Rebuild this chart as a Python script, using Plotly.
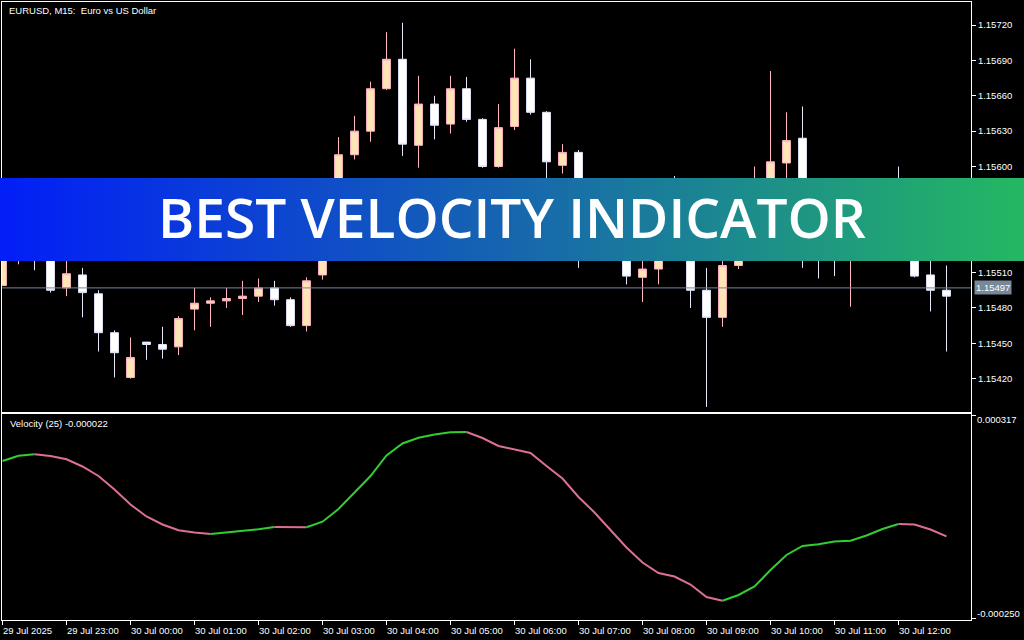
import plotly.graph_objects as go
import pandas as pd

W, H = 1024, 640

# ---------------- data ----------------
times = [
    "2025-07-29 22:00", "2025-07-29 22:15", "2025-07-29 22:30", "2025-07-29 22:45",
    "2025-07-29 23:00", "2025-07-29 23:15", "2025-07-29 23:30", "2025-07-29 23:45",
    "2025-07-30 00:00", "2025-07-30 00:15", "2025-07-30 00:30", "2025-07-30 00:45",
    "2025-07-30 01:00", "2025-07-30 01:15", "2025-07-30 01:30", "2025-07-30 01:45",
    "2025-07-30 02:00", "2025-07-30 02:15", "2025-07-30 02:30", "2025-07-30 02:45",
    "2025-07-30 03:00", "2025-07-30 03:15", "2025-07-30 03:30", "2025-07-30 03:45",
    "2025-07-30 04:00", "2025-07-30 04:15", "2025-07-30 04:30", "2025-07-30 04:45",
    "2025-07-30 05:00", "2025-07-30 05:15", "2025-07-30 05:30", "2025-07-30 05:45",
    "2025-07-30 06:00", "2025-07-30 06:15", "2025-07-30 06:30", "2025-07-30 06:45",
    "2025-07-30 07:00", "2025-07-30 07:15", "2025-07-30 07:30", "2025-07-30 07:45",
    "2025-07-30 08:00", "2025-07-30 08:15", "2025-07-30 08:30", "2025-07-30 08:45",
    "2025-07-30 09:00", "2025-07-30 09:15", "2025-07-30 09:30", "2025-07-30 09:45",
    "2025-07-30 10:00", "2025-07-30 10:15", "2025-07-30 10:30", "2025-07-30 10:45",
    "2025-07-30 11:00", "2025-07-30 11:15", "2025-07-30 11:30", "2025-07-30 11:45",
    "2025-07-30 12:00", "2025-07-30 12:15", "2025-07-30 12:30", "2025-07-30 12:45",
]

opens = [
    1.15499, 1.15529, 1.15551, 1.15537, 1.15497, 1.15508, 1.15492, 1.15459, 1.15421, 1.15451,
    1.15449, 1.15447, 1.15479, 1.15484, 1.15486, 1.15488, 1.15490, 1.15497, 1.15487, 1.15465,
    1.15508, 1.15542, 1.15610, 1.15630, 1.15666, 1.15691, 1.15618, 1.15653, 1.15636, 1.15666,
    1.15640, 1.15600, 1.15634, 1.15675, 1.15646, 1.15601, 1.15612, 1.15539, 1.15529, 1.15537,
    1.15506, 1.15513, 1.15533, 1.15524, 1.15495, 1.15472, 1.15516, 1.15537, 1.15567, 1.15603,
    1.15624, 1.15537, 1.15524, 1.15522, 1.15537, 1.15552, 1.15567, 1.15546, 1.15508, 1.15495,
]
highs = [
    1.15537, 1.15571, 1.15561, 1.15544, 1.15524, 1.15514, 1.15495, 1.15461, 1.15455, 1.15451,
    1.15464, 1.15473, 1.15497, 1.15489, 1.15497, 1.15503, 1.15505, 1.15503, 1.15489, 1.15506,
    1.15547, 1.15625, 1.15643, 1.15672, 1.15714, 1.15722, 1.15677, 1.15660, 1.15677, 1.15676,
    1.15641, 1.15653, 1.15700, 1.15691, 1.15647, 1.15619, 1.15614, 1.15550, 1.15544, 1.15541,
    1.15524, 1.15539, 1.15592, 1.15529, 1.15514, 1.15522, 1.15544, 1.15600, 1.15681, 1.15646,
    1.15651, 1.15546, 1.15533, 1.15544, 1.15561, 1.15573, 1.15600, 1.15552, 1.15524, 1.15516,
]
lows = [
    1.15499, 1.15517, 1.15512, 1.15493, 1.15490, 1.15472, 1.15443, 1.15421, 1.15420, 1.15436,
    1.15437, 1.15440, 1.15461, 1.15464, 1.15480, 1.15474, 1.15485, 1.15482, 1.15464, 1.15460,
    1.15504, 1.15539, 1.15606, 1.15621, 1.15665, 1.15609, 1.15599, 1.15623, 1.15628, 1.15638,
    1.15599, 1.15599, 1.15631, 1.15644, 1.15584, 1.15594, 1.15514, 1.15520, 1.15524, 1.15500,
    1.15485, 1.15500, 1.15522, 1.15480, 1.15396, 1.15464, 1.15513, 1.15533, 1.15563, 1.15584,
    1.15514, 1.15505, 1.15507, 1.15481, 1.15530, 1.15547, 1.15541, 1.15506, 1.15477, 1.15443,
]
closes = [
    1.15530, 1.15552, 1.15537, 1.15495, 1.15509, 1.15493, 1.15459, 1.15442, 1.15438, 1.15449,
    1.15445, 1.15471, 1.15484, 1.15486, 1.15488, 1.15490, 1.15497, 1.15487, 1.15465, 1.15503,
    1.15541, 1.15610, 1.15630, 1.15666, 1.15691, 1.15619, 1.15653, 1.15635, 1.15666, 1.15640,
    1.15600, 1.15633, 1.15675, 1.15646, 1.15604, 1.15612, 1.15537, 1.15529, 1.15537, 1.15507,
    1.15513, 1.15533, 1.15524, 1.15495, 1.15472, 1.15516, 1.15537, 1.15567, 1.15604, 1.15622,
    1.15537, 1.15524, 1.15522, 1.15537, 1.15552, 1.15567, 1.15546, 1.15507, 1.15495, 1.15490,
]

velocity = [
    0.0001885, 0.0002033, 0.0002072, 0.0002025, 0.0001933, 0.0001732, 0.0001466, 0.0001089, 0.0000670, 0.0000335,
    0.0000112, -0.0000050, -0.0000112, -0.0000154, -0.0000117, -0.0000070, -0.0000022, 0.0000042, 0.0000039, 0.0000036,
    0.0000190, 0.0000545, 0.0001005, 0.0001466, 0.0002039, 0.0002374, 0.0002533, 0.0002625, 0.0002687, 0.0002695,
    0.0002528, 0.0002304, 0.0002206, 0.0002109, 0.0001746, 0.0001396, 0.0000880, 0.0000447, -0.0000042, -0.0000531,
    -0.0000950, -0.0001243, -0.0001341, -0.0001564, -0.0001913, -0.0002017, -0.0001857, -0.0001620, -0.0001159, -0.0000740,
    -0.0000489, -0.0000441, -0.0000363, -0.0000341, -0.0000196, -0.0000014, 0.0000126, 0.0000112, -0.0000028, -0.0000220,
]

price_ticks = [1.15420, 1.15450, 1.15480, 1.15510, 1.15540, 1.15570, 1.15600, 1.15630, 1.15660, 1.15690, 1.15720]
tick_times = [
    "2025-07-29 22:00", "2025-07-29 23:00", "2025-07-30 00:00", "2025-07-30 01:00",
    "2025-07-30 02:00", "2025-07-30 03:00", "2025-07-30 04:00", "2025-07-30 05:00",
    "2025-07-30 06:00", "2025-07-30 07:00", "2025-07-30 08:00", "2025-07-30 09:00",
    "2025-07-30 10:00", "2025-07-30 11:00", "2025-07-30 12:00",
]
tick_text = [
    "29 Jul 2025", "29 Jul 23:00", "30 Jul 00:00", "30 Jul 01:00",
    "30 Jul 02:00", "30 Jul 03:00", "30 Jul 04:00", "30 Jul 05:00",
    "30 Jul 06:00", "30 Jul 07:00", "30 Jul 08:00", "30 Jul 09:00",
    "30 Jul 10:00", "30 Jul 11:00", "30 Jul 12:00",
]
vel_max_label = 0.000317
vel_min_label = -0.000250
current_price = 1.15497
title_text = "EURUSD, M15:\u00a0 Euro vs US Dollar"
banner_text = "BEST VELOCITY INDICATOR"

# ---------------- styling / layout geometry ----------------
FONT = "Liberation Sans"
FS = 9.5
WHITE = "#ffffff"
BULL_FILL, BULL_LINE = "#FFE4B5", "#FFB6C1"
BEAR_FILL, BEAR_LINE = "#FFFFFF", "#E6E6FA"
UP_COL, DN_COL = "#32CD32", "#DB7093"
GRAYLINE = "#778899"

PX_L, PX_R = 2, 971          # plot area left/right (px)
MAIN_T, MAIN_B = 2, 412      # main panel top/bottom (px)
IND_T, IND_B = 414, 620      # indicator panel top/bottom (px)

t0 = pd.Timestamp(times[0])
step = pd.Timedelta(minutes=15)
x_lo = t0 - step * (0.5 / 16)
x_hi = t0 + step * ((PX_R - 2.5) / 16)
xrange = [x_lo.isoformat(), x_hi.isoformat()]

main_range = [1.153917, 1.157396]
ind_range = [-0.0002556, 0.0003198]


def py(px):
    return 1 - px / H


fig = go.Figure()

fig.add_trace(go.Candlestick(
    x=times, open=opens, high=highs, low=lows, close=closes,
    increasing=dict(fillcolor=BULL_FILL, line=dict(color=BULL_LINE, width=1)),
    decreasing=dict(fillcolor=BEAR_FILL, line=dict(color=BEAR_LINE, width=1)),
    whiskerwidth=0, showlegend=False, hoverinfo="skip",
    xaxis="x", yaxis="y",
))

# velocity line, coloured by direction
runs = []
cur_dir = None
for i in range(1, len(velocity)):
    d = velocity[i] > velocity[i - 1]
    if d != cur_dir:
        runs.append([d, [i - 1, i]])
        cur_dir = d
    else:
        runs[-1][1].append(i)
for d, idx in runs:
    fig.add_trace(go.Scatter(
        x=[times[i] for i in idx], y=[velocity[i] for i in idx],
        mode="lines", line=dict(color=UP_COL if d else DN_COL, width=2),
        showlegend=False, hoverinfo="skip", xaxis="x2", yaxis="y2",
    ))

axis_common = dict(showgrid=False, zeroline=False, showline=True, mirror=True,
                   linecolor=WHITE, linewidth=1)

fig.update_layout(
    width=W, height=H,
    margin=dict(l=0, r=0, t=0, b=0),
    paper_bgcolor="#000000", plot_bgcolor="#000000",
    showlegend=False, hovermode=False,
    font=dict(family=FONT, size=FS, color=WHITE),
    xaxis=dict(domain=[PX_L / W, PX_R / W], range=xrange, type="date", anchor="y",
               showticklabels=False, ticks="", rangeslider=dict(visible=False),
               **axis_common),
    yaxis=dict(domain=[py(MAIN_B), py(MAIN_T)], range=main_range, side="right",
               anchor="x", tickvals=price_ticks,
               ticktext=[f"{v:.5f}" for v in price_ticks],
               ticks="outside", ticklen=4, tickcolor=WHITE,
               tickfont=dict(family=FONT, size=FS, color=WHITE), **axis_common),
    xaxis2=dict(domain=[PX_L / W, PX_R / W], range=xrange, type="date", anchor="y2",
                tickvals=tick_times, showticklabels=False, ticks="outside",
                ticklen=4, tickcolor=WHITE, **axis_common),
    yaxis2=dict(domain=[py(IND_B), py(IND_T)], range=ind_range, side="right",
                anchor="x2", tickvals=[vel_max_label, vel_min_label],
                showticklabels=False, ticks="outside", ticklen=4, tickcolor=WHITE,
                **axis_common),
)

shapes = []
# current price line
shapes.append(dict(type="line", xref="paper", yref="y", x0=PX_L / W, x1=PX_R / W,
                   y0=current_price, y1=current_price,
                   line=dict(color=GRAYLINE, width=1), layer="above"))

# gradient banner
stops = [(0.0, (2, 30, 248)), (0.5, (22, 102, 175)), (1.0, (36, 184, 98))]


def grad(t):
    for (a, ca), (b, cb) in zip(stops[:-1], stops[1:]):
        if a <= t <= b:
            f = (t - a) / (b - a)
            return tuple(round(ca[j] + (cb[j] - ca[j]) * f) for j in range(3))
    return stops[-1][1]


N = 128
for i in range(N):
    c = grad((i + 0.5) / N)
    shapes.append(dict(type="rect", xref="paper", yref="paper",
                       x0=i / N, x1=min(1.0, (i + 1) / N + 0.003),
                       y0=py(261), y1=py(178),
                       fillcolor=f"rgb({c[0]},{c[1]},{c[2]})",
                       line=dict(width=0), layer="above"))
fig.update_layout(shapes=shapes)

ann = []
ann.append(dict(text=title_text, xref="paper", yref="paper", x=7 / W, y=py(10),
                xanchor="left", yanchor="middle", showarrow=False,
                font=dict(family=FONT, size=FS, color=WHITE)))
ann.append(dict(text=f"Velocity (25) {velocity[-1]:.6f}", xref="paper", yref="paper",
                x=8 / W, y=py(423), xanchor="left", yanchor="middle", showarrow=False,
                font=dict(family=FONT, size=FS, color=WHITE)))
ann.append(dict(text=f"{vel_max_label:.6f}", xref="paper", yref="paper", x=975 / W,
                y=py(419.5), xanchor="left", yanchor="middle", showarrow=False,
                font=dict(family=FONT, size=FS, color=WHITE)))
ann.append(dict(text=f"{vel_min_label:.6f}", xref="paper", yref="paper", x=975 / W,
                y=py(613.5), xanchor="left", yanchor="middle", showarrow=False,
                font=dict(family=FONT, size=FS, color=WHITE)))
ann.append(dict(text=f"{current_price:.5f}", xref="paper", yref="y", x=974 / W,
                y=current_price, xanchor="left", yanchor="middle", showarrow=False,
                bgcolor=GRAYLINE, borderpad=1,
                font=dict(family=FONT, size=FS, color=WHITE)))
for tv, tt in zip(tick_times, tick_text):
    ann.append(dict(text=tt, xref="x2", yref="paper", x=tv, y=py(623),
                    xanchor="left", yanchor="top", showarrow=False, xshift=-2,
                    font=dict(family=FONT, size=FS, color=WHITE)))
ann.append(dict(text=banner_text, xref="paper", yref="paper", x=0.5, y=py(216.5),
                xanchor="center", yanchor="middle", showarrow=False,
                font=dict(family="Open Sans", size=55, color=WHITE, weight=600)))
fig.update_layout(annotations=ann)

fig.write_html(
    "out.html",
    config={"displayModeBar": False, "staticPlot": True},
    post_script="document.body.style.margin='0';document.body.style.overflow='hidden';",
)
